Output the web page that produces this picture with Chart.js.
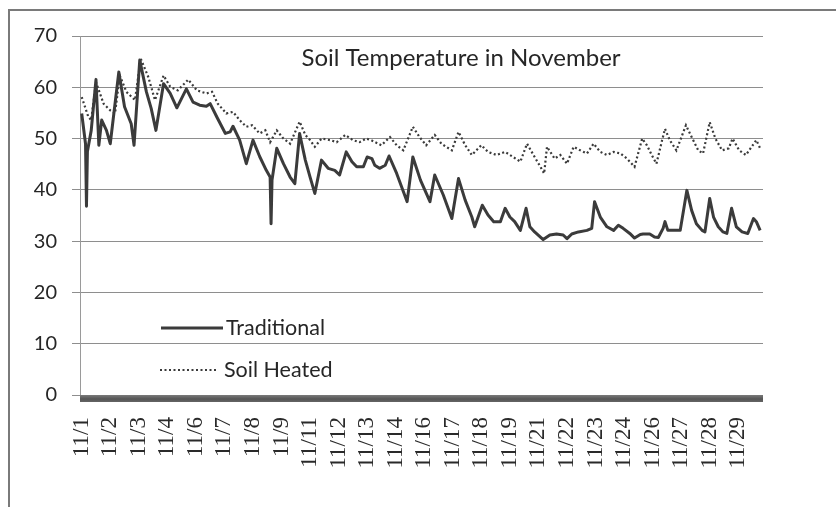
<!DOCTYPE html>
<html>
<head>
<meta charset="utf-8">
<script src="https://cdn.jsdelivr.net/npm/chart.js@4.4.1/dist/chart.umd.min.js"></script>
<style>
  html, body { margin: 0; padding: 0; background: #ffffff; }
  #wrap { width: 836px; height: 507px; position: relative; }
</style>
</head>
<body>
<div id="wrap"><canvas id="c" width="836" height="507"></canvas></div>
<script>
// Category tick labels (every 30 hours from 11/1 00:00)
const tickLabels = ['11/1','11/2','11/3','11/4','11/6','11/7','11/8','11/9','11/11','11/12','11/13','11/14',
  '11/16','11/17','11/18','11/19','11/21','11/22','11/23','11/24','11/26','11/27','11/28','11/29'];

// Traditional: hours since 11/1 00:00 and soil temperature
const tradHours = [0,4,5,6,10,15,18,21,26,30,39,45,52,55,61,68,73,78,86,93,100,110,117,124,131,135,142,151,156,159,
  166,173,180,187,194,198,199,200,205,212,219,224,229,235,240,245,252,259,266,271,278,284,289,296,300,305,308,313,319,
  323,331,342,348,356,366,371,380,389,396,403,410,413,421,427,433,440,445,450,455,461,467,471,476,485,492,499,506,510,
  515,522,531,536,539,545,552,559,564,569,576,581,587,590,597,602,606,611,613,616,622,629,636,641,646,652,655,660,664,
  669,674,678,683,688,694,700,706,709,713];
const tradTemps = [54.9,49.0,36.8,47.5,51.6,61.5,48.7,53.6,51.6,49.0,63.0,56.2,52.9,48.7,65.3,59.1,55.9,51.6,60.7,58.8,
  56.0,59.7,57.1,56.5,56.3,56.8,54.2,51.0,51.3,52.4,49.7,45.1,49.7,46.5,43.8,42.5,33.4,41.9,48.1,45.1,42.5,41.2,51.0,
  45.8,42.5,39.3,45.8,44.2,43.8,42.9,47.4,45.5,44.5,44.5,46.4,46.1,44.8,44.2,44.8,46.6,43.2,37.7,46.4,41.9,37.7,42.9,
  39.0,34.4,42.2,38.0,34.7,32.8,37.0,35.1,33.8,33.8,36.4,34.7,33.8,32.1,36.4,32.8,31.8,30.3,31.2,31.4,31.2,30.5,31.4,
  31.8,32.1,32.5,37.7,34.7,32.8,32.1,33.1,32.5,31.5,30.6,31.3,31.4,31.4,30.8,30.7,32.5,33.8,32.1,32.1,32.1,39.9,36.0,
  33.4,32.1,31.8,38.3,34.7,32.8,31.8,31.5,36.4,32.8,31.8,31.5,34.4,33.8,32.1];

// Soil Heated: hours since 11/1 00:00 and soil temperature
const heatHours = [0,7,10,15,23,30,35,40,47,56,62,70,77,86,93,101,112,121,131,137,143,152,159,166,173,179,187,193,198,
  205,212,219,229,235,240,245,252,261,268,277,285,292,299,304,315,324,331,338,348,355,362,371,378,383,389,396,403,410,
  420,427,436,445,461,468,476,483,486,489,497,503,510,517,524,531,538,545,552,559,566,573,581,589,594,599,604,610,613,
  618,625,635,641,648,653,660,666,673,680,684,691,698,709,713];
const heatTemps = [58.1,54.2,53.6,61.0,56.8,55.5,54.9,62.3,59.1,57.5,65.6,62.0,57.5,62.3,60.1,59.4,61.5,59.4,58.8,59.1,
  56.8,54.9,55.2,53.6,52.3,52.6,51.0,51.6,49.3,51.6,50.0,49.0,53.3,50.7,49.7,48.4,50.0,49.7,49.3,50.7,49.7,49.3,50.0,
  49.7,48.7,50.3,48.7,47.7,52.3,50.3,48.7,50.7,49.0,48.4,47.7,51.3,48.7,46.8,48.7,47.4,46.8,47.4,45.5,49.0,46.4,44.2,
  43.2,48.4,46.1,46.8,45.1,48.4,47.7,47.1,49.0,47.4,46.8,47.4,47.1,46.1,44.5,50.0,48.7,46.8,45.1,49.7,51.9,49.7,47.7,
  52.6,50.3,47.7,47.1,53.2,50.0,47.7,48.1,50.0,47.7,46.8,49.7,48.1];

const seriesNames = ['Traditional', 'Soil Heated'];
const chartTitle = 'Soil Temperature in November';

const SOLID = '#3b3b3b';
const DOTTED = '#3a3a3a';
const SANS = 'Lato, "Open Sans", "DejaVu Sans", sans-serif';
const SERIF = '"Liberation Serif", "DejaVu Serif", serif';

const decor = {
  id: 'decor',
  beforeDraw(chart) {
    const ctx = chart.ctx;
    ctx.save();
    ctx.fillStyle = '#ffffff';
    ctx.fillRect(0, 0, chart.width, chart.height);
    ctx.strokeStyle = '#7a7a7a';
    ctx.lineWidth = 2;
    ctx.beginPath();
    ctx.moveTo(9, 507);
    ctx.lineTo(9, 10);
    ctx.lineTo(836, 10);
    ctx.stroke();
    ctx.restore();
  },
  afterDraw(chart) {
    const ctx = chart.ctx;
    const a = chart.chartArea;
    ctx.save();
    // thick category axis bar
    const g = ctx.createLinearGradient(0, a.bottom, 0, a.bottom + 8);
    g.addColorStop(0, '#7a7a7a');
    g.addColorStop(0.5, '#555555');
    g.addColorStop(1, '#6a6a6a');
    ctx.fillStyle = g;
    ctx.fillRect(a.left, a.bottom, a.right - a.left, 7);
    // title
    ctx.fillStyle = '#262626';
    ctx.font = '24px ' + SANS;
    ctx.textAlign = 'center';
    ctx.textBaseline = 'middle';
    ctx.fillText(chartTitle, 461, 58);
    // legend
    ctx.textAlign = 'left';
    ctx.font = '21.5px ' + SANS;
    ctx.strokeStyle = SOLID;
    ctx.lineWidth = 3;
    ctx.setLineDash([]);
    ctx.beginPath(); ctx.moveTo(161, 328); ctx.lineTo(223, 328); ctx.stroke();
    ctx.fillText(seriesNames[0], 226, 328);
    ctx.strokeStyle = DOTTED;
    ctx.lineWidth = 2.2;
    ctx.setLineDash([2, 2.5]);
    ctx.beginPath(); ctx.moveTo(160, 370); ctx.lineTo(216, 370); ctx.stroke();
    ctx.setLineDash([]);
    ctx.fillText(seriesNames[1], 224, 370);
    ctx.restore();
  }
};

new Chart(document.getElementById('c'), {
  type: 'line',
  data: {
    datasets: [
      {
        label: seriesNames[0],
        data: tradHours.map((h, i) => ({ x: h, y: tradTemps[i] })),
        borderColor: SOLID,
        borderWidth: 3,
        pointRadius: 0,
        tension: 0,
        borderJoinStyle: 'round'
      },
      {
        label: seriesNames[1],
        data: heatHours.map((h, i) => ({ x: h, y: heatTemps[i] })),
        borderColor: DOTTED,
        borderWidth: 2.2,
        borderDash: [2, 2.5],
        pointRadius: 0,
        tension: 0
      }
    ]
  },
  options: {
    responsive: false,
    animation: false,
    devicePixelRatio: 1,
    layout: { padding: { left: 0, right: 73, top: 36, bottom: 0 } },
    plugins: { legend: { display: false }, tooltip: { enabled: false }, title: { display: false } },
    scales: {
      x: {
        type: 'linear',
        min: -1.8,
        max: 716,
        grid: { display: false, drawTicks: false },
        border: { display: false },
        afterBuildTicks(scale) {
          scale.ticks = tickLabels.map((_, i) => ({ value: i * 30 }));
        },
        afterFit(scale) { scale.height = 112; },
        ticks: {
          autoSkip: false,
          minRotation: 90,
          maxRotation: 90,
          padding: 22,
          color: '#2a2a2a',
          font: { family: SERIF, size: 23 },
          callback(v) { return tickLabels[Math.round(v / 30)]; }
        }
      },
      y: {
        min: 0,
        max: 70,
        afterFit(scale) { scale.width = 80; },
        grid: { color: '#8e8e8e', lineWidth: 1, tickLength: 8, drawTicks: true },
        border: { display: true, color: '#9a9a9a', width: 1 },
        ticks: {
          stepSize: 10,
          padding: 15,
          color: '#262626',
          font: { family: SANS, size: 20 }
        }
      }
    }
  },
  plugins: [decor]
});
</script>
</body>
</html>
